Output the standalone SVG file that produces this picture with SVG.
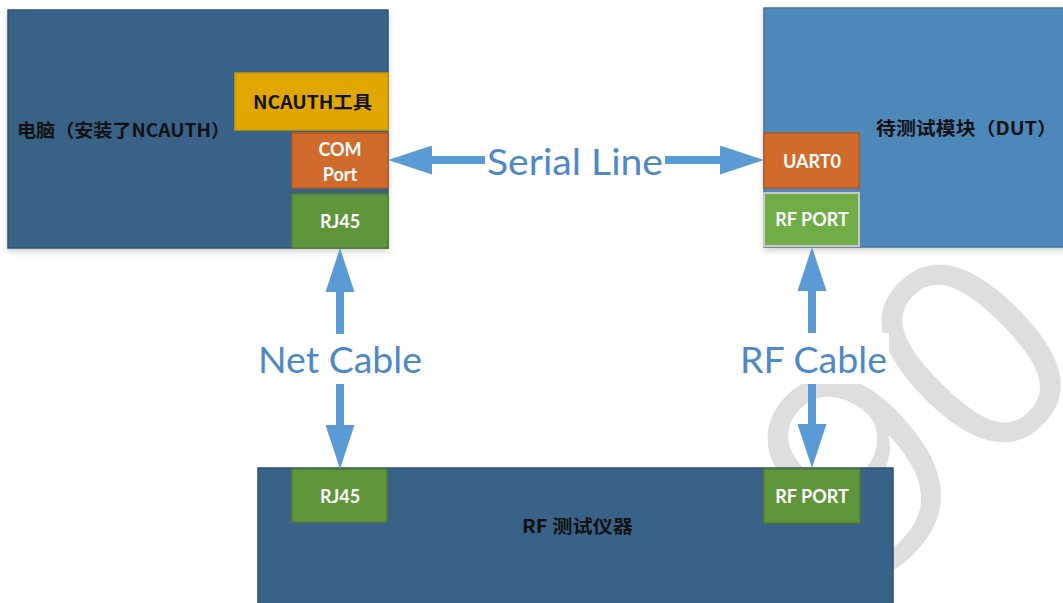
<svg xmlns="http://www.w3.org/2000/svg" width="1063" height="603" viewBox="0 0 1063 603">
  <style>
    .dark { fill: #386288; stroke: #2e5273; stroke-width: 1.5; }
    .mid { fill: #4e88bb; stroke: #41739f; stroke-width: 1.5; }
    .gold { fill: #dfa700; stroke: #cc9800; stroke-width: 1.5; }
    .orange { fill: #d06b2b; stroke: #b75a20; stroke-width: 1.5; }
    .green { fill: #5f963b; stroke: #4f7f30; stroke-width: 1.5; }
    .lgreen { fill: #70ad47; stroke: #c8c8c8; stroke-width: 2; }
    .blk { font-family: "Noto Sans CJK SC", "Noto Sans", sans-serif; font-weight: bold; font-size: 18px; fill: #111111; }
    .port { font-family: Lato, "Noto Sans", sans-serif; font-weight: bold; font-size: 18px; fill: #ffffff; text-anchor: middle; }
    .lbl { font-family: Lato, "Noto Sans", sans-serif; font-size: 37px; fill: #4e89c5; }
    .wire { stroke: #5b9bd5; stroke-width: 8; fill: none; }
    .wm { font-family: "Open Sans", sans-serif; font-size: 275px; fill: #dedede; }
  </style>
  <defs>
    <marker id="ah" viewBox="0 0 44 29" refX="0" refY="14.5" markerWidth="44" markerHeight="29" markerUnits="userSpaceOnUse" orient="auto-start-reverse">
      <path d="M0,0 L44,14.5 L0,29 z" fill="#5b9bd5"/>
    </marker>
    <filter id="sh" x="-10%" y="-10%" width="120%" height="130%">
      <feDropShadow dx="0" dy="3" stdDeviation="3" flood-color="#000000" flood-opacity="0.18"/>
    </filter>
  </defs>

  <rect width="1063" height="603" fill="#ffffff"/>

  <!-- watermark -->
  <text class="wm" transform="rotate(-45)" x="201" y="1035">90</text>

  <g id="pc">
    <rect class="dark" x="8" y="10" width="380" height="238" filter="url(#sh)"/>
    <text class="blk" x="17" y="137" textLength="213" lengthAdjust="spacingAndGlyphs">电脑（安装了NCAUTH）</text>
  </g>
  <g id="ncauth-tool">
    <rect class="gold" x="235" y="73" width="153" height="57"/>
    <text class="blk" x="253" y="109" textLength="119" lengthAdjust="spacingAndGlyphs">NCAUTH工具</text>
  </g>
  <g id="com-port">
    <rect class="orange" x="292" y="133" width="96" height="55"/>
    <text class="port" x="340" y="156">COM</text>
    <text class="port" x="340" y="181">Port</text>
  </g>
  <g id="pc-rj45">
    <rect class="green" x="292" y="194" width="96" height="54"/>
    <text class="port" x="340" y="228">RJ45</text>
  </g>

  <g id="dut">
    <rect class="mid" x="764" y="8" width="310" height="239" filter="url(#sh)"/>
    <text class="blk" x="876" y="135" textLength="181" lengthAdjust="spacingAndGlyphs">待测试模块（DUT）</text>
  </g>
  <g id="uart0">
    <rect class="orange" x="764" y="133" width="95" height="55"/>
    <text class="port" x="812" y="168">UART0</text>
  </g>
  <g id="dut-rfport">
    <rect class="lgreen" x="764" y="193" width="95" height="53"/>
    <text class="port" x="812" y="226">RF PORT</text>
  </g>

  <g id="rf-tester">
    <rect class="dark" x="258" y="468" width="635" height="145"/>
    <text class="blk" x="522" y="533" textLength="111" lengthAdjust="spacingAndGlyphs">RF 测试仪器</text>
  </g>
  <g id="tester-rj45">
    <rect class="green" x="292" y="469" width="95" height="53"/>
    <text class="port" x="340" y="503">RJ45</text>
  </g>
  <g id="tester-rfport">
    <rect class="green" x="764" y="469" width="96" height="54"/>
    <text class="port" x="812" y="503">RF PORT</text>
  </g>

  <g id="connectors">
    <line class="wire" x1="432" y1="160" x2="720" y2="160" marker-start="url(#ah)" marker-end="url(#ah)"/>
    <line class="wire" x1="340" y1="292" x2="340" y2="425" marker-start="url(#ah)" marker-end="url(#ah)"/>
    <line class="wire" x1="812" y1="291" x2="812" y2="424" marker-start="url(#ah)" marker-end="url(#ah)"/>
    <rect x="485" y="138" width="180" height="44" fill="#ffffff"/>
    <text class="lbl" x="487" y="175" textLength="176" lengthAdjust="spacingAndGlyphs">Serial Line</text>
    <rect x="254" y="334" width="172" height="50" fill="#ffffff"/>
    <text class="lbl" x="258" y="373" textLength="164" lengthAdjust="spacingAndGlyphs">Net Cable</text>
    <rect x="736" y="333" width="153" height="51" fill="#ffffff"/>
    <text class="lbl" x="740" y="373" textLength="147" lengthAdjust="spacingAndGlyphs">RF Cable</text>
  </g>
</svg>
